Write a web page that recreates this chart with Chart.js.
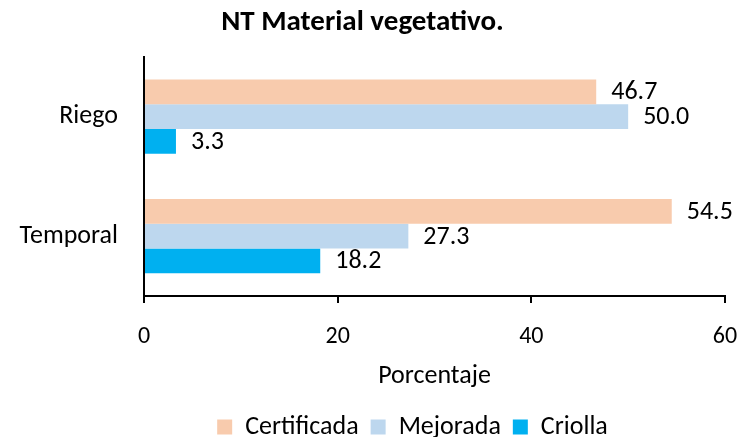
<!DOCTYPE html>
<html><head><meta charset="utf-8">
<script src="https://cdn.jsdelivr.net/npm/chart.js@4/dist/chart.umd.min.js"></script>
<style>html,body{margin:0;padding:0;background:#fff}#wrap{width:740px;height:437px}</style>
</head><body><div id="wrap"><canvas id="c" width="740" height="437"></canvas></div>
<script>
const categories = ["Riego", "Temporal"];
const seriesNames = ["Certificada", "Mejorada", "Criolla"];
const certificada = [46.7, 54.5];
const mejorada = [50.0, 27.3];
const criolla = [3.3, 18.2];
const xTicks = [0, 20, 40, 60];
const colors = ["#F8CBAD", "#BDD7EE", "#00B0F0"];
const FONT = "Carlito, Lato, 'Open Sans', sans-serif";

const labelPlugin = {
  id: 'vals',
  afterLayout(chart) {
    const lg = chart.legend;
    if (lg) { lg.left += 50; lg.right += 50; lg.top += 10; lg.bottom += 10; }
  },
  afterDatasetsDraw(chart) {
    const ctx = chart.ctx;
    ctx.save();
    ctx.font = "26px " + FONT;
    ctx.fillStyle = "#000";
    ctx.textBaseline = "middle";
    ctx.textAlign = "left";
    chart.data.datasets.forEach((ds, i) => {
      chart.getDatasetMeta(i).data.forEach((bar, j) => {
        ctx.fillText(ds.data[j].toFixed(1), bar.x + 15, bar.y + 1);
      });
    });
    ctx.restore();
  }
};

new Chart(document.getElementById('c'), {
  type: 'bar',
  data: {
    labels: categories,
    datasets: [
      {label: seriesNames[0], data: certificada, backgroundColor: colors[0]},
      {label: seriesNames[1], data: mejorada, backgroundColor: colors[1]},
      {label: seriesNames[2], data: criolla, backgroundColor: colors[2]}
    ]
  },
  options: {
    indexAxis: 'y',
    responsive: false,
    animation: false,
    devicePixelRatio: 1,
    layout: {padding: {left: 0, right: 15, top: 0, bottom: 0}},
    datasets: {bar: {categoryPercentage: 0.62, barPercentage: 1.0}},
    scales: {
      x: {
        min: 0, max: 60,
        afterBuildTicks(axis) { axis.ticks = xTicks.map(v => ({value: v})); },
        afterFit(axis) { axis.paddingRight = 0; axis.paddingLeft = 0; },
        grid: {display: true, drawOnChartArea: false, drawTicks: true, tickLength: 7, color: '#000', lineWidth: 2},
        border: {display: true, color: '#000', width: 2},
        ticks: {color: '#000', font: {size: 24, family: FONT}, padding: 20},
        title: {display: true, text: 'Porcentaje', color: '#000', font: {size: 26, family: FONT}, padding: {top: -11, bottom: 0}}
      },
      y: {
        afterFit(axis) { axis.width = 144; },
        grid: {display: false},
        border: {display: true, color: '#000', width: 2},
        ticks: {color: '#000', font: {size: 26, family: FONT}, padding: 18}
      }
    },
    plugins: {
      title: {display: true, text: 'NT Material vegetativo.', color: '#000', font: {size: 29, weight: 'bold', family: FONT}, padding: {top: 5, bottom: 17}},
      legend: {
        position: 'bottom',
        maxHeight: 45,
        labels: {color: '#000', font: {size: 26, family: FONT}, boxWidth: 15, boxHeight: 15, padding: 12}
      },
      tooltip: {enabled: false}
    }
  },
  plugins: [labelPlugin]
});
</script></body></html>
